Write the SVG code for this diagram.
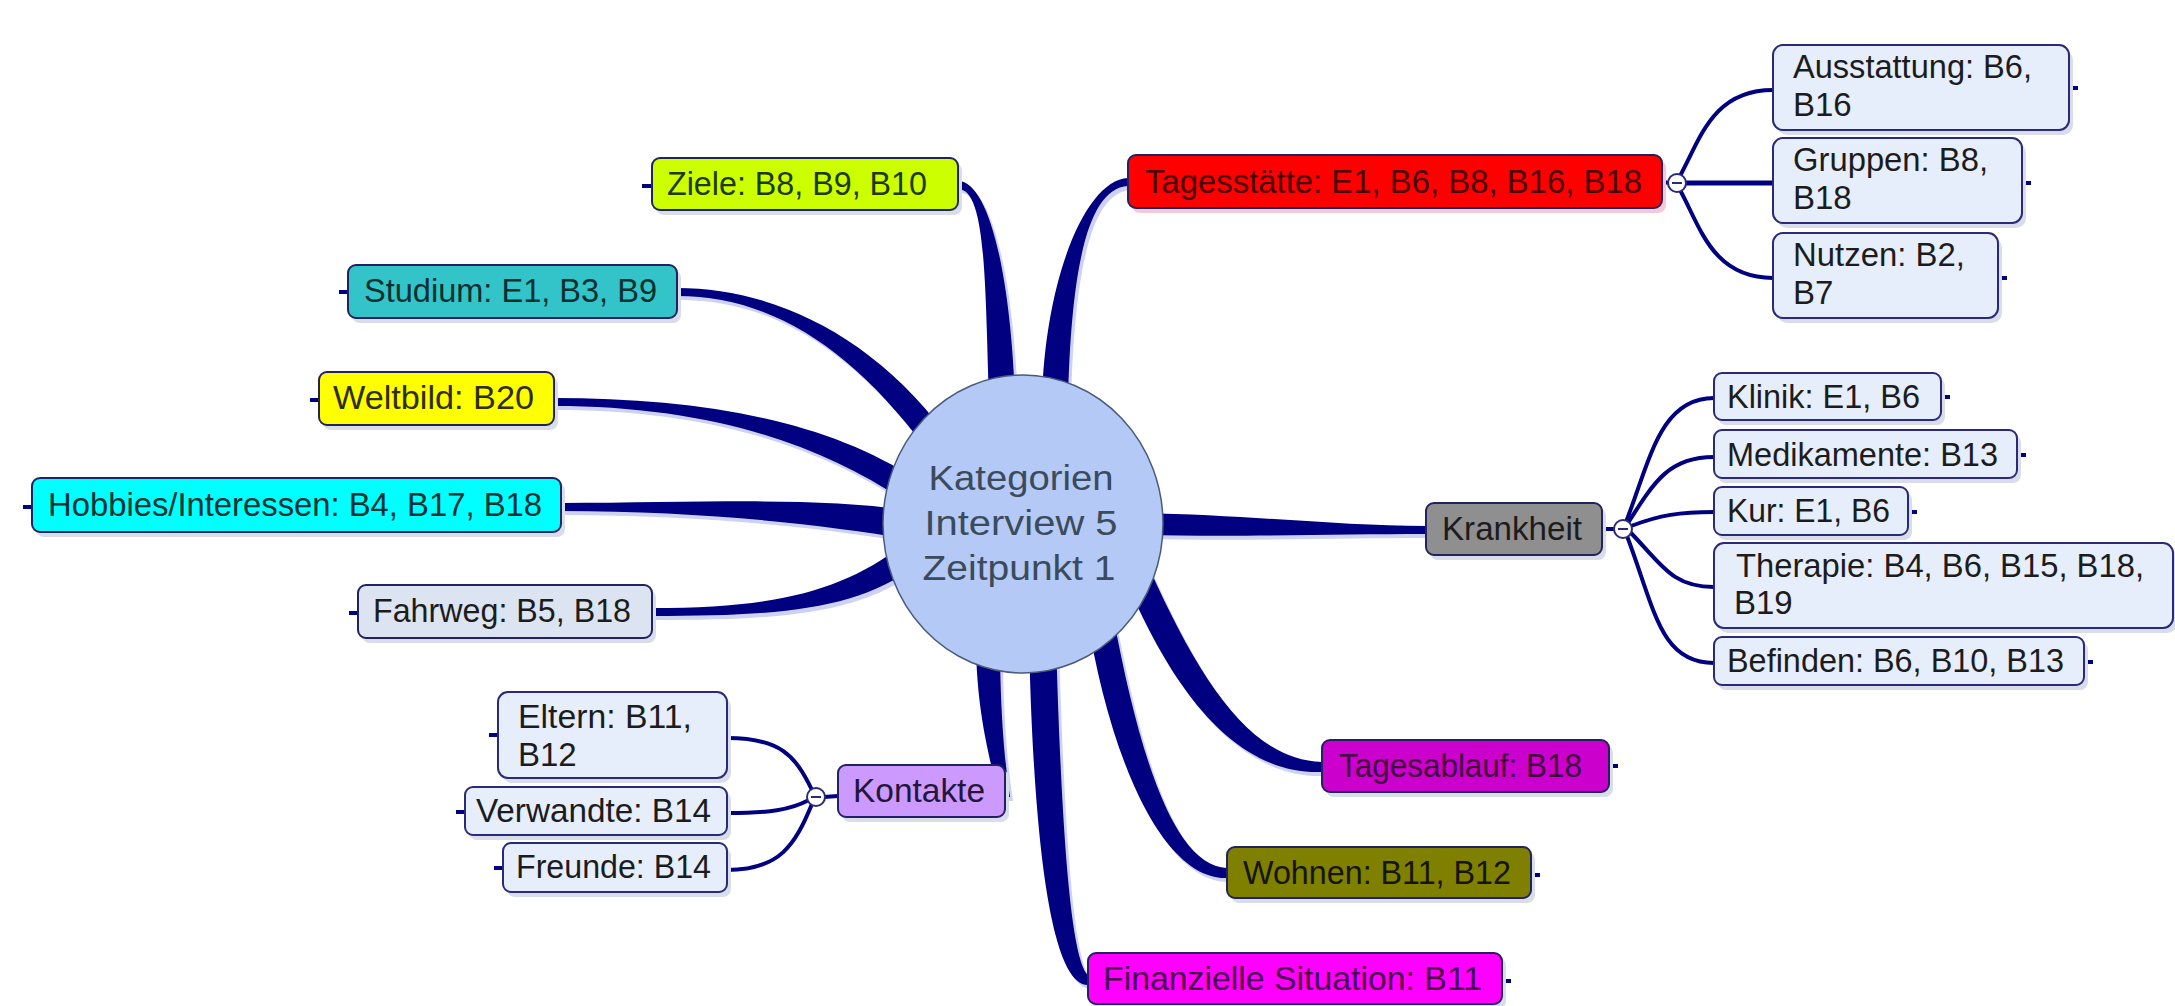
<svg xmlns="http://www.w3.org/2000/svg" width="2175" height="1006" viewBox="0 0 2175 1006">
<defs>
<style>
.bg{fill:#ffffff}
.sh{fill:#d9dce9}
.box{stroke:#22225e;stroke-width:2}
.sub{fill:#e6eefc;stroke:#2a2a78;stroke-width:2}
.t{font-family:"Liberation Sans",Arial,sans-serif;font-size:33px;fill:#1c1c1c}
.ct{font-family:"Liberation Sans",Arial,sans-serif;font-size:35px;fill:#3b4b5c;text-anchor:middle}
.conn{fill:#000080}
.cshadow{fill:#cdd1f4}
.thin{fill:none;stroke:#000080;stroke-width:4;stroke-linecap:round}
.stub{stroke:#000080;stroke-width:4}
.col{fill:#ffffff;stroke:#2a2a78;stroke-width:2}
.minus{stroke:#2a2a78;stroke-width:2}
</style>
</defs>
<rect class="bg" x="0" y="0" width="2175" height="1006"/>

<g id="connectors">
  <g class="cshadow" transform="translate(3,4)">
    <path d="M 958 181 C 990 181, 1011 280, 1015 400 L 989 400 C 985 280, 986 189, 958 189 Z"/>
    <path d="M 1128 178 C 1085 180, 1045 280, 1042 400 L 1068 400 C 1071 280, 1085 188, 1128 186 Z"/>
    <path d="M 677 288 C 770 288, 870 333, 945 433 L 925 447 C 850 347, 770 296, 677 296 Z"/>
    <path d="M 554 398 C 700 398, 827 420, 917 480 L 903 500 C 813 440, 700 406, 554 406 Z"/>
    <path d="M 561 503 C 700 503, 820 496, 912 511 L 908 539 C 820 524, 700 511, 561 511 Z"/>
    <path d="M 652 608 C 780 608, 843 590, 903 545 L 917 565 C 857 610, 780 616, 652 616 Z"/>
    <path d="M 1426 526 C 1340 526, 1250 515, 1140 513 L 1140 535 C 1250 537, 1340 534, 1426 534 Z"/>
    <path d="M 976 640 C 976 720, 994 770, 998 797 L 1010 797 C 1006 770, 1000 720, 1000 640 Z"/>
    <path d="M 1029 640 C 1033 820, 1048 985, 1088 985 L 1088 975 C 1072 960, 1062 850, 1056 640 Z"/>
    <path d="M 1087 615 C 1108 750, 1160 880, 1227 878 L 1227 868 C 1175 866, 1140 760, 1113 615 Z"/>
    <path d="M 1130 590 C 1170 680, 1230 775, 1322 772 L 1322 762 C 1250 760, 1200 680, 1150 570 Z"/>
  </g>
  <g class="conn">
    <path d="M 958 181 C 990 181, 1011 280, 1015 400 L 989 400 C 985 280, 986 189, 958 189 Z"/>
    <path d="M 1128 178 C 1085 180, 1045 280, 1042 400 L 1068 400 C 1071 280, 1085 188, 1128 186 Z"/>
    <path d="M 677 288 C 770 288, 870 333, 945 433 L 925 447 C 850 347, 770 296, 677 296 Z"/>
    <path d="M 554 398 C 700 398, 827 420, 917 480 L 903 500 C 813 440, 700 406, 554 406 Z"/>
    <path d="M 561 503 C 700 503, 820 496, 912 511 L 908 539 C 820 524, 700 511, 561 511 Z"/>
    <path d="M 652 608 C 780 608, 843 590, 903 545 L 917 565 C 857 610, 780 616, 652 616 Z"/>
    <path d="M 1426 526 C 1340 526, 1250 515, 1140 513 L 1140 535 C 1250 537, 1340 534, 1426 534 Z"/>
    <path d="M 976 640 C 976 720, 994 770, 998 797 L 1010 797 C 1006 770, 1000 720, 1000 640 Z"/>
    <path d="M 1029 640 C 1033 820, 1048 985, 1088 985 L 1088 975 C 1072 960, 1062 850, 1056 640 Z"/>
    <path d="M 1087 615 C 1108 750, 1160 880, 1227 878 L 1227 868 C 1175 866, 1140 760, 1113 615 Z"/>
    <path d="M 1130 590 C 1170 680, 1230 775, 1322 772 L 1322 762 C 1250 760, 1200 680, 1150 570 Z"/>
  </g>
  <!-- Tagesstätte children -->
  <path class="thin" d="M 1662 182 L 1670 183"/>
  <path class="thin" d="M 1680 176 C 1700 140, 1712 90, 1773 90"/>
  <path class="thin" style="stroke-width:5" d="M 1686 183 L 1773 183"/>
  <path class="thin" d="M 1680 190 C 1700 226, 1712 278, 1773 278"/>
  <!-- Krankheit children -->
  <path class="thin" d="M 1602 529 L 1616 529"/>
  <path class="thin" d="M 1626 522 C 1650 460, 1660 398, 1714 398"/>
  <path class="thin" d="M 1628 523 C 1655 480, 1670 457, 1714 457"/>
  <path class="thin" d="M 1631 526 C 1660 515, 1680 512, 1714 512"/>
  <path class="thin" d="M 1631 533 C 1662 565, 1672 587, 1714 587"/>
  <path class="thin" d="M 1627 536 C 1655 610, 1660 663, 1714 663"/>
  <!-- Kontakte children -->
  <path class="thin" d="M 824 797 L 838 796"/>
  <path class="thin" d="M 812 790 C 795 755, 780 738, 727 738"/>
  <path class="thin" d="M 809 800 C 790 810, 770 813, 727 813"/>
  <path class="thin" d="M 812 804 C 795 845, 780 870, 727 870"/>
  <!-- stubs -->
  <g class="stub">
    <line x1="642" y1="186" x2="652" y2="186"/>
    <line x1="339" y1="292" x2="348" y2="292"/>
    <line x1="310" y1="400" x2="319" y2="400"/>
    <line x1="23" y1="507" x2="32" y2="507"/>
    <line x1="349" y1="613" x2="358" y2="613"/>
    <line x1="489" y1="735" x2="498" y2="735"/>
    <line x1="456" y1="812" x2="465" y2="812"/>
    <line x1="494" y1="868" x2="503" y2="868"/>
    <line x1="2069" y1="88" x2="2078" y2="88"/>
    <line x1="2022" y1="183" x2="2031" y2="183"/>
    <line x1="1998" y1="278" x2="2007" y2="278"/>
    <line x1="1941" y1="397" x2="1950" y2="397"/>
    <line x1="2017" y1="455" x2="2026" y2="455"/>
    <line x1="1908" y1="512" x2="1917" y2="512"/>
    <line x1="2084" y1="662" x2="2093" y2="662"/>
    <line x1="1609" y1="766" x2="1618" y2="766"/>
    <line x1="1531" y1="875" x2="1540" y2="875"/>
    <line x1="1502" y1="981" x2="1511" y2="981"/>
  </g>
</g>

<g id="center">
  <ellipse cx="1023" cy="524" rx="140" ry="149" fill="#b4c9f6" stroke="#4a5a7a" stroke-width="1.5"/>
  <text class="ct" x="1021" y="490" textLength="185" lengthAdjust="spacingAndGlyphs">Kategorien</text>
  <text class="ct" x="1021" y="535" textLength="193" lengthAdjust="spacingAndGlyphs">Interview 5</text>
  <text class="ct" x="1019" y="580" textLength="193" lengthAdjust="spacingAndGlyphs">Zeitpunkt 1</text>
</g>

<g id="ziele">
  <rect class="sh" x="656" y="163" width="306" height="52" rx="8"/>
  <rect class="box" x="652" y="158" width="306" height="52" rx="8" fill="#ccff00"/>
  <text class="t" x="667" y="195" textLength="260" lengthAdjust="spacingAndGlyphs" style="fill:#1e3a00">Ziele: B8, B9, B10</text>
</g>
<g id="studium">
  <rect class="sh" x="352" y="270" width="329" height="53" rx="8"/>
  <rect class="box" x="348" y="265" width="329" height="53" rx="8" fill="#33c4c9"/>
  <text class="t" x="364" y="302" textLength="293" lengthAdjust="spacingAndGlyphs" style="fill:#0a3030">Studium: E1, B3, B9</text>
</g>
<g id="weltbild">
  <rect class="sh" x="323" y="377" width="235" height="53" rx="8"/>
  <rect class="box" x="319" y="372" width="235" height="53" rx="8" fill="#ffff00"/>
  <text class="t" x="333" y="409" textLength="201" lengthAdjust="spacingAndGlyphs" style="fill:#2e2e00">Weltbild: B20</text>
</g>
<g id="hobbies">
  <rect class="sh" x="36" y="483" width="529" height="54" rx="8"/>
  <rect class="box" x="32" y="478" width="529" height="54" rx="8" fill="#00ffff"/>
  <text class="t" x="48" y="516" textLength="494" lengthAdjust="spacingAndGlyphs" style="fill:#003333">Hobbies/Interessen: B4, B17, B18</text>
</g>
<g id="fahrweg">
  <rect class="sh" x="362" y="590" width="294" height="53" rx="8"/>
  <rect class="box" x="358" y="585" width="294" height="53" rx="8" fill="#dde4f1"/>
  <text class="t" x="373" y="622" textLength="258" lengthAdjust="spacingAndGlyphs">Fahrweg: B5, B18</text>
</g>

<g id="tagesstaette">
  <rect class="sh" x="1132" y="160" width="534" height="53" rx="8" style="fill:#f5c8d8"/>
  <rect class="box" x="1128" y="155" width="534" height="53" rx="8" fill="#ff0000"/>
  <text class="t" x="1145" y="193" textLength="497" lengthAdjust="spacingAndGlyphs" style="fill:#4a0000">Tagesstätte: E1, B6, B8, B16, B18</text>
  <circle class="col" cx="1677" cy="183" r="9"/>
  <line class="minus" x1="1672" y1="183" x2="1682" y2="183"/>
</g>
<g id="ausstattung">
  <rect class="sh" x="1777" y="50" width="296" height="85" rx="10"/>
  <rect class="sub" x="1773" y="45" width="296" height="85" rx="10"/>
  <text class="t" x="1793" y="78" textLength="239" lengthAdjust="spacingAndGlyphs">Ausstattung: B6,</text>
  <text class="t" x="1793" y="116">B16</text>
</g>
<g id="gruppen">
  <rect class="sh" x="1777" y="143" width="249" height="85" rx="10"/>
  <rect class="sub" x="1773" y="138" width="249" height="85" rx="10"/>
  <text class="t" x="1793" y="171" textLength="195" lengthAdjust="spacingAndGlyphs">Gruppen: B8,</text>
  <text class="t" x="1793" y="209">B18</text>
</g>
<g id="nutzen">
  <rect class="sh" x="1777" y="238" width="225" height="85" rx="10"/>
  <rect class="sub" x="1773" y="233" width="225" height="85" rx="10"/>
  <text class="t" x="1793" y="266" textLength="172" lengthAdjust="spacingAndGlyphs">Nutzen: B2,</text>
  <text class="t" x="1793" y="304">B7</text>
</g>

<g id="krankheit">
  <rect class="sh" x="1430" y="508" width="176" height="52" rx="8"/>
  <rect class="box" x="1426" y="503" width="176" height="52" rx="8" fill="#8f8f8f"/>
  <text class="t" x="1442" y="540" textLength="140" lengthAdjust="spacingAndGlyphs">Krankheit</text>
  <circle class="col" cx="1623" cy="529" r="9"/>
  <line class="minus" x1="1618" y1="529" x2="1628" y2="529"/>
</g>
<g id="klinik">
  <rect class="sh" x="1718" y="378" width="227" height="47" rx="8"/>
  <rect class="sub" x="1714" y="373" width="227" height="47" rx="8"/>
  <text class="t" x="1727" y="408" textLength="193" lengthAdjust="spacingAndGlyphs">Klinik: E1, B6</text>
</g>
<g id="medikamente">
  <rect class="sh" x="1718" y="435" width="303" height="48" rx="8"/>
  <rect class="sub" x="1714" y="430" width="303" height="48" rx="8"/>
  <text class="t" x="1727" y="466" textLength="271" lengthAdjust="spacingAndGlyphs">Medikamente: B13</text>
</g>
<g id="kur">
  <rect class="sh" x="1718" y="492" width="194" height="48" rx="8"/>
  <rect class="sub" x="1714" y="487" width="194" height="48" rx="8"/>
  <text class="t" x="1727" y="522" textLength="163" lengthAdjust="spacingAndGlyphs">Kur: E1, B6</text>
</g>
<g id="therapie">
  <rect class="sh" x="1718" y="548" width="459" height="85" rx="10"/>
  <rect class="sub" x="1714" y="543" width="459" height="85" rx="10"/>
  <text class="t" x="1736" y="577" textLength="408" lengthAdjust="spacingAndGlyphs">Therapie: B4, B6, B15, B18,</text>
  <text class="t" x="1734" y="614">B19</text>
</g>
<g id="befinden">
  <rect class="sh" x="1718" y="642" width="370" height="48" rx="8"/>
  <rect class="sub" x="1714" y="637" width="370" height="48" rx="8"/>
  <text class="t" x="1727" y="672" textLength="337" lengthAdjust="spacingAndGlyphs">Befinden: B6, B10, B13</text>
</g>

<g id="tagesablauf">
  <rect class="sh" x="1326" y="745" width="287" height="52" rx="8"/>
  <rect class="box" x="1322" y="740" width="287" height="52" rx="8" fill="#cc00cc"/>
  <text class="t" x="1339" y="777" textLength="243" lengthAdjust="spacingAndGlyphs" style="fill:#400040">Tagesablauf: B18</text>
</g>
<g id="wohnen">
  <rect class="sh" x="1231" y="852" width="304" height="51" rx="8"/>
  <rect class="box" x="1227" y="847" width="304" height="51" rx="8" fill="#808000"/>
  <text class="t" x="1243" y="884" textLength="268" lengthAdjust="spacingAndGlyphs" style="fill:#151500">Wohnen: B11, B12</text>
</g>
<g id="finanzielle">
  <rect class="sh" x="1092" y="958" width="414" height="51" rx="8"/>
  <rect class="box" x="1088" y="953" width="414" height="51" rx="8" fill="#ff00ff"/>
  <text class="t" x="1103" y="990" textLength="379" lengthAdjust="spacingAndGlyphs" style="fill:#4a004a">Finanzielle Situation: B11</text>
</g>

<g id="kontakte">
  <rect class="sh" x="842" y="770" width="167" height="52" rx="8"/>
  <rect class="box" x="838" y="765" width="167" height="52" rx="8" fill="#cc99ff"/>
  <text class="t" x="853" y="802" textLength="132" lengthAdjust="spacingAndGlyphs" style="fill:#24163a">Kontakte</text>
  <circle class="col" cx="816" cy="797" r="9"/>
  <line class="minus" x1="811" y1="797" x2="821" y2="797"/>
</g>
<g id="eltern">
  <rect class="sh" x="502" y="697" width="229" height="86" rx="10"/>
  <rect class="sub" x="498" y="692" width="229" height="86" rx="10"/>
  <text class="t" x="518" y="728" textLength="174" lengthAdjust="spacingAndGlyphs">Eltern: B11,</text>
  <text class="t" x="518" y="766">B12</text>
</g>
<g id="verwandte">
  <rect class="sh" x="469" y="792" width="262" height="48" rx="8"/>
  <rect class="sub" x="465" y="787" width="262" height="48" rx="8"/>
  <text class="t" x="476" y="822" textLength="235" lengthAdjust="spacingAndGlyphs">Verwandte: B14</text>
</g>
<g id="freunde">
  <rect class="sh" x="507" y="848" width="224" height="49" rx="8"/>
  <rect class="sub" x="503" y="843" width="224" height="49" rx="8"/>
  <text class="t" x="516" y="878" textLength="195" lengthAdjust="spacingAndGlyphs">Freunde: B14</text>
</g>
</svg>
